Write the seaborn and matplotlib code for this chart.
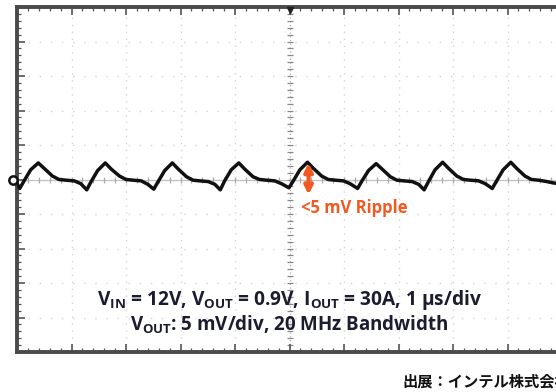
import numpy as np
import pandas as pd
import matplotlib
matplotlib.use("Agg")
import matplotlib.pyplot as plt
import seaborn as sns

# ---- data ----
time_us = [0.00,
           0.05, 0.13, 0.25, 0.39, 0.50, 0.65, 0.77, 0.90, 1.05, 1.17,
           1.28, 1.36, 1.48, 1.62, 1.73, 1.88, 2.00, 2.13, 2.28, 2.40,
           2.51, 2.59, 2.71, 2.85, 2.96, 3.11, 3.23, 3.36, 3.51, 3.63,
           3.73, 3.81, 3.93, 4.07, 4.18, 4.33, 4.45, 4.58, 4.73, 4.85,
           4.99, 5.07, 5.19, 5.33, 5.44, 5.59, 5.71, 5.84, 5.99, 6.11,
           6.25, 6.33, 6.45, 6.59, 6.70, 6.85, 6.97, 7.10, 7.25, 7.37,
           7.47, 7.55, 7.67, 7.81, 7.92, 8.07, 8.19, 8.32, 8.47, 8.59,
           8.72, 8.80, 8.92, 9.06, 9.17, 9.32, 9.44, 9.57, 9.72, 9.84, 9.95]
vout_mv = [-0.6,
           -1.3, -0.2, 1.4, 2.4, 1.6, 0.5, 0.0, -0.1, -0.2, -0.6,
           -1.5, -0.3, 1.3, 2.4, 1.5, 0.5, 0.0, -0.1, -0.2, -0.7,
           -1.4, -0.3, 1.3, 2.4, 1.5, 0.4, -0.1, -0.2, -0.3, -0.7,
           -1.5, -0.2, 1.4, 2.4, 1.5, 0.4, 0.0, -0.1, -0.2, -0.6,
           -1.2, -0.2, 1.4, 2.5, 1.6, 0.5, 0.0, -0.1, -0.2, -0.6,
           -1.3, -0.2, 1.3, 2.3, 1.5, 0.4, -0.1, -0.2, -0.3, -0.7,
           -1.5, -0.3, 1.4, 2.5, 1.6, 0.5, 0.0, -0.1, -0.2, -0.6,
           -1.3, -0.2, 1.4, 2.5, 1.6, 0.5, 0.0, -0.1, -0.3, -0.5, -0.6]

ripple_label = "<5 mV Ripple"
ripple_arrow_mv = [2.4, -2.2]   # arrow from the peak down
ripple_arrow_t = 5.35
line1 = r"V$_{\mathregular{IN}}$ = 12V, V$_{\mathregular{OUT}}$ = 0.9V, I$_{\mathregular{OUT}}$ = 30A, 1 µs/div"
line2 = r"V$_{\mathregular{OUT}}$: 5 mV/div, 20 MHz Bandwidth"
caption = "出展：インテル株式会社"

df = pd.DataFrame({"t": time_us, "v": vout_mv})

sns.set_style("white")
plt.rcParams["font.family"] = ["Open Sans", "DejaVu Sans"]
plt.rcParams["mathtext.fontset"] = "custom"
plt.rcParams["mathtext.rm"] = "Open Sans:bold"
plt.rcParams["mathtext.bf"] = "Open Sans:bold"

fig = plt.figure(figsize=(5.56, 3.92), dpi=100)
W, H = 556, 392
ax = fig.add_axes([17 / W, 40 / H, 545 / W, 345 / H])

# grid (dotted divisions)
gcol = "#d4d4d4"
for xv in np.arange(1, 10):
    if xv != 5:
        ax.axvline(xv, color=gcol, lw=1.0, ls=(0, (1, 4)), zorder=0)
for yv in np.arange(-20, 21, 5):
    if yv != 0:
        ax.axhline(yv, color=gcol, lw=1.0, ls=(0, (1, 7)), zorder=0)
# centre cross
ax.axhline(0, color="#c0c0c0", lw=0.9, zorder=0)
ax.axvline(5, color="#b0b0b0", lw=0.9, ls=(0, (1, 2)), zorder=0)
cy = np.arange(-25, 25.01, 1)
ax.plot(np.full_like(cy, 5.0), cy, ls="none", marker="_", ms=4, mew=0.9,
        color="#888888", zorder=0)
cx = np.arange(0, 10.01, 0.2)
ax.plot(cx, np.zeros_like(cx), ls="none", marker="|", ms=4, mew=0.9,
        color="#aaaaaa", zorder=0)

sns.lineplot(data=df, x="t", y="v", ax=ax, color="#111111", lw=2.5, zorder=3)

ax.set_xlim(0, 10)
ax.set_ylim(-25, 25)
ax.set_xlabel("")
ax.set_ylabel("")
ax.set_xticks(np.arange(0, 10.01, 1))
ax.set_xticks(np.arange(0, 10.01, 0.2), minor=True)
ax.set_yticks(np.arange(-25, 25.01, 5))
ax.set_yticks(np.arange(-25, 25.01, 1), minor=True)
ax.tick_params(which="both", direction="in", top=True, bottom=True, left=True,
               right=False, labelbottom=False, labelleft=False, color="#555555")
ax.tick_params(which="major", length=6, width=1.2)
ax.tick_params(which="minor", length=3, width=0.9)
for s in ["left", "top", "bottom"]:
    ax.spines[s].set_color("#4a4a4a")
    ax.spines[s].set_linewidth(2.8)
ax.spines["right"].set_visible(False)

# ground marker and trigger marker
ax.plot([-0.07], [0], marker="o", ms=6, mfc="white", mec="#111111", mew=1.8,
        clip_on=False, zorder=5)
ax.plot([5], [24.6], marker="v", ms=5, color="#222222", clip_on=False, zorder=5)

# ripple arrow and label
orange = "#f05a22"
ax.annotate("", xy=(ripple_arrow_t, ripple_arrow_mv[0]),
            xytext=(ripple_arrow_t, ripple_arrow_mv[1]),
            arrowprops=dict(arrowstyle="<|-|>", color=orange, lw=3.0,
                            mutation_scale=12, shrinkA=0, shrinkB=0), zorder=6)
ax.text(5.22, -4.2, ripple_label, color=orange, fontsize=12, fontweight="bold",
        ha="left", va="center", zorder=6)

navy = "#1c1c30"
ax.text(5.0, -17.4, line1, color=navy, fontsize=13.8, fontweight="bold",
        ha="center", va="center", zorder=6)
ax.text(5.0, -21.0, line2, color=navy, fontsize=13.5, fontweight="bold",
        ha="center", va="center", zorder=6)

fig.text(402 / W, 1 - 381 / H, caption, fontsize=11, fontweight="bold",
         family=["Noto Sans CJK JP", "DejaVu Sans"], ha="left", va="center",
         color="#111111")

fig.savefig("out.png", dpi=100)
